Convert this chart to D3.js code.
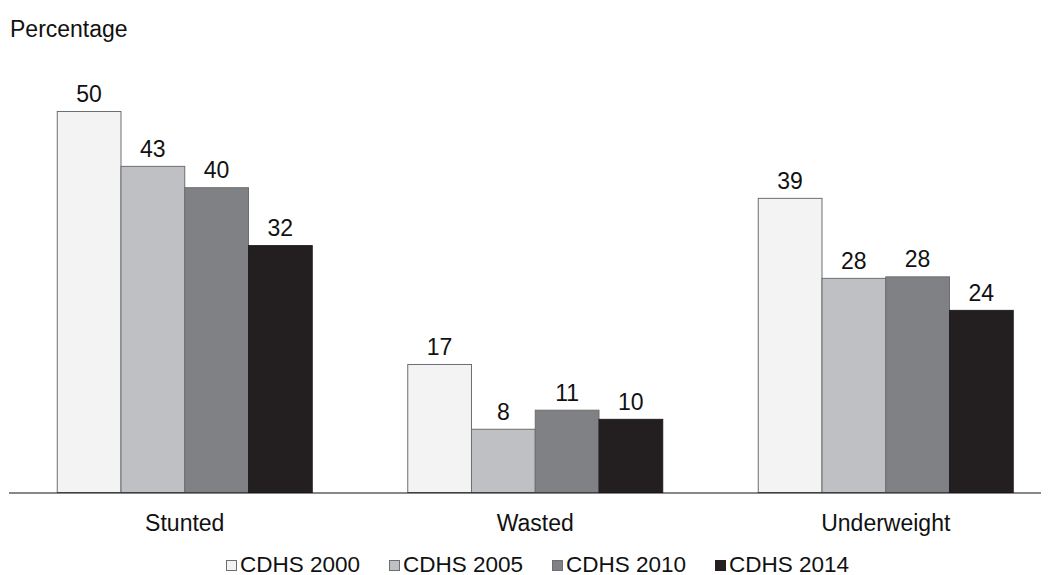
<!DOCTYPE html>
<html>
<head>
<meta charset="utf-8">
<script src="https://cdn.jsdelivr.net/npm/d3@7"></script>
<style>
  body { margin: 0; background: #fff; }
  svg { display: block; font-family: "Liberation Sans", Arial, sans-serif; }
</style>
</head>
<body>
<svg id="chart" width="1048" height="575"></svg>
<script>
const categories = ["Stunted", "Wasted", "Underweight"];
const seriesNames = ["CDHS 2000", "CDHS 2005", "CDHS 2010", "CDHS 2014"];
const cdhs2000 = [50.0, 16.8, 38.6];
const cdhs2005 = [42.8, 8.3, 28.1];
const cdhs2010 = [40.0, 10.8, 28.3];
const cdhs2014 = [32.4, 9.6, 23.9];
const seriesValues = [cdhs2000, cdhs2005, cdhs2010, cdhs2014];
const colors = ["#f2f3f2", "#bfc0c3", "#808184", "#231f20"];
const yAxisTitle = "Percentage";

const svg = d3.select("#chart");
const baseY = 492.5;
const FS = 23;

const x0 = d3.scaleBand().domain(categories).range([9.5, 1061]).paddingInner(0.2725).paddingOuter(0.13625);
const x1 = d3.scaleBand().domain(seriesNames).range([0, x0.bandwidth()]).padding(0);
const y = d3.scaleLinear().domain([0, 55]).range([baseY, baseY - 55 * 7.62]);

const data = [];
categories.forEach((c, ci) => {
  seriesNames.forEach((s, si) => {
    data.push({cat: c, series: s, si: si, value: seriesValues[si][ci]});
  });
});

svg.append("text").attr("x", 10).attr("y", 37).attr("font-size", FS).attr("fill", "#111").text(yAxisTitle);

const g = svg.append("g");
g.selectAll("rect.bar").data(data).enter().append("rect")
  .attr("class", "bar")
  .attr("x", d => x0(d.cat) + x1(d.series))
  .attr("y", d => y(d.value))
  .attr("width", x1.bandwidth())
  .attr("height", d => y(0) - y(d.value))
  .attr("fill", d => colors[d.si])
  .attr("stroke", d => d.si === 3 ? colors[3] : "#6d6e71")
  .attr("stroke-width", 1);

g.selectAll("text.val").data(data).enter().append("text")
  .attr("class", "val")
  .attr("x", d => x0(d.cat) + x1(d.series) + x1.bandwidth() / 2)
  .attr("y", d => y(d.value) - 9.5)
  .attr("text-anchor", "middle")
  .attr("font-size", FS)
  .attr("fill", "#111")
  .text(d => d3.format(".0f")(d.value));

// x axis
const xAxis = d3.axisBottom(x0).tickSize(0).tickPadding(0);
const ax = svg.append("g").attr("transform", `translate(0,${baseY + 0.5})`).call(xAxis);
ax.select(".domain").attr("d", "M9,0H1041").attr("stroke", "#111").attr("stroke-width", 1.2);
ax.selectAll(".tick text").attr("font-size", FS).attr("fill", "#111").attr("dy", 0).attr("y", 37.5)
  .attr("font-family", "'Liberation Sans', Arial, sans-serif");

// legend
const legendX = [226, 389, 552, 715];
const lg = svg.append("g");
seriesNames.forEach((s, i) => {
  lg.append("rect").attr("x", legendX[i] + 0.5).attr("y", 560.5).attr("width", 10).attr("height", 10)
    .attr("fill", colors[i]).attr("stroke", i === 3 ? colors[3] : "#6d6e71").attr("stroke-width", 1);
  lg.append("text").attr("x", legendX[i] + 14).attr("y", 571.5).attr("font-size", 22.5).attr("fill", "#111").text(s);
});
</script>
</body>
</html>
